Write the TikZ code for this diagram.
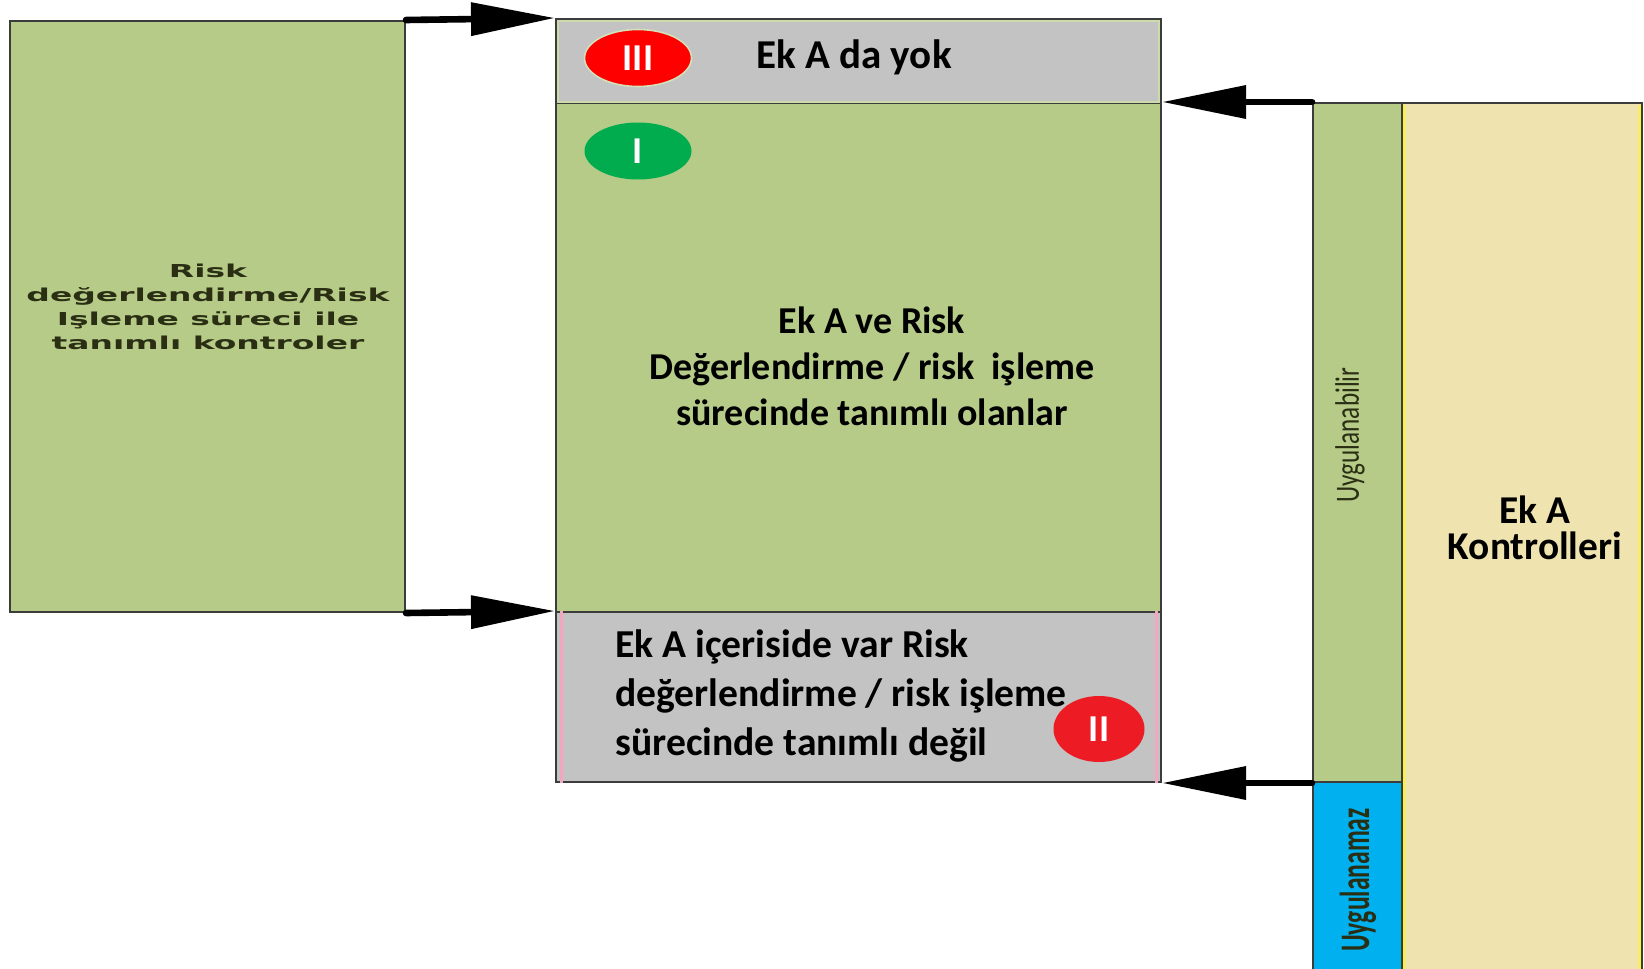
\documentclass[tikz,border=0pt]{standalone}
\usepackage{fontspec}
\setmainfont{Carlito}
\newfontfamily\widefont{DejaVu Sans}
\usetikzlibrary{arrows.meta,fit,shapes.geometric}

\definecolor{boxgreen}{HTML}{B6CB88}
\definecolor{boxgray}{HTML}{C3C3C3}
\definecolor{boxyellow}{HTML}{EFE3AF}
\definecolor{boxblue}{HTML}{00B0EF}
\definecolor{edgegray}{HTML}{3C3C3C}
\definecolor{badgered}{HTML}{FF0000}
\definecolor{badgered2}{HTML}{ED1C24}
\definecolor{badgegreen}{HTML}{00AC4E}
\definecolor{pinkedge}{HTML}{F4A6BE}
\definecolor{oliveink}{HTML}{2A2F14}

\begin{document}
\begin{tikzpicture}[x=0.5pt,y=-0.5pt,
  block/.style={draw=edgegray, line width=1pt, inner sep=0pt, rectangle},
  bigarrow/.style={line width=3.3pt, line cap=round, -{Triangle[length=42pt,width=16pt]}},
  maintext/.style={font=\bfseries\fontsize{19}{23}\selectfont, align=center, inner sep=0pt},
  badge/.style={ellipse, inner sep=0pt, text=white, font=\bfseries\fontsize{19}{19}\selectfont}]

\useasboundingbox (0,0) rectangle (1644,969);

% left column
\node[block, fill=boxgreen, fit={(10,21)(405,612)}] (risk) {};
\node[align=center, inner sep=0pt, text=oliveink] at (208,308)
  {\scalebox{1.85}[1]{\widefont\bfseries\fontsize{8.9}{12.5}\selectfont
   \begin{tabular}{@{}c@{}}Risk\\[-0.5pt]değerlendirme/Risk\\[-0.5pt]Işleme süreci ile\\[-0.5pt]tanımlı kontroler\end{tabular}}};

% central stack
\node[block, fill=boxgray, fit={(556,19)(1161,103)}] (yok) {};
\node[block, fill=boxgreen, fit={(556,103)(1161,612)}] (tanimli) {};
\node[block, fill=boxgray, fit={(556,612)(1161,782)}] (degil) {};
\draw[boxgreen!70!white, line width=0.8pt] ([shift={(3,3)}]yok.north west) rectangle ([shift={(-3,-2)}]yok.south east);
\draw[pinkedge, line width=1.5pt] ([xshift=3]degil.north west) -- ([xshift=3]degil.south west);
\draw[pinkedge, line width=1.5pt] ([xshift=-3]degil.north east) -- ([xshift=-3]degil.south east);

\node[maintext, font=\bfseries\fontsize{20.5}{23}\selectfont] at (854,57) {Ek A da yok};
\node[maintext] at (872,366) {Ek A ve Risk\\ Değerlendirme / risk\ \ işleme\\ sürecinde tanımlı olanlar};
\node[maintext, align=left, anchor=west, font=\bfseries\fontsize{19.8}{24.5}\selectfont] at (615,696)
  {Ek A içeriside var Risk\\ değerlendirme / risk işleme\\ sürecinde tanımlı değil};

\node[badge, fill=badgered, draw=boxgreen!60!white, line width=0.8pt, minimum width=53.5pt, minimum height=28.5pt] (b3) at (638,58) {III};
\node[badge, fill=badgegreen, minimum width=53.5pt, minimum height=28.5pt] (b1) at (638,151) {I};
\node[badge, fill=badgered2, minimum width=45.5pt, minimum height=33pt] (b2) at (1099,729) {II};

% right column
\node[block, fill=boxgreen, fit={(1313,103)(1402,782)}] (uyg) {};
\node[block, fill=boxblue, fit={(1313,782)(1402,972)}] (uygdegil) {};
\node[block, fill=boxyellow, fit={(1402,103)(1642,972)}] (eka) {};
\draw[yellow!85!white, line width=1pt] ([shift={(3,3)}]eka.north west) -- ([shift={(3,0)}]eka.south west);
\draw[yellow!85!white, line width=1pt] ([shift={(-3,3)}]eka.north east) -- ([shift={(-3,0)}]eka.south east);

\node[rotate=90, inner sep=0pt, text=oliveink] at (1350,435)
  {\scalebox{0.74}[1]{\fontsize{17}{17}\selectfont Uygulanabilir}};
\node[rotate=90, inner sep=0pt, text=oliveink] at (1358,880)
  {\scalebox{0.61}[1]{\bfseries\fontsize{21}{21}\selectfont Uygulanamaz}};
\node[maintext, font=\bfseries\fontsize{19.7}{18}\selectfont] at (1535,528) {Ek A\\ Kontrolleri};

% connectors
\draw[bigarrow] (risk.north east) -- (yok.north west);
\draw[bigarrow] (risk.south east) -- (degil.north west);
\draw[bigarrow] (uyg.north west) -- (tanimli.north east);
\draw[bigarrow] (uyg.south west) -- (degil.south east);
\end{tikzpicture}
\end{document}
